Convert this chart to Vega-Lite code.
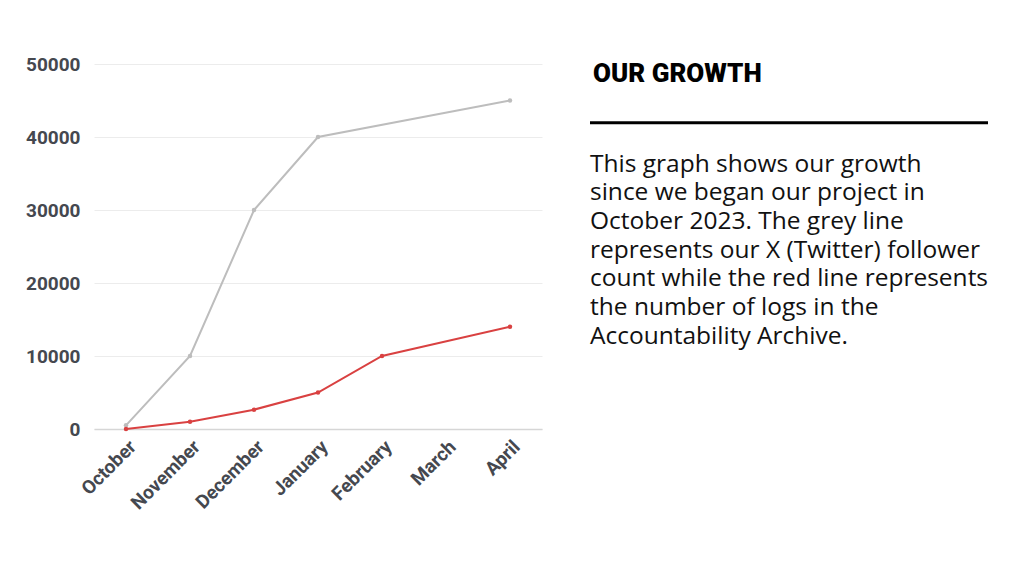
{
  "$schema": "https://vega.github.io/schema/vega-lite/v6.json",
  "background": "white",
  "padding": {"left": 25, "top": 55, "right": 0, "bottom": 0},
  "autosize": {"type": "pad"},
  "config": {"view": {"stroke": null}},
  "spacing": 48,
  "bounds": "flush",
  "hconcat": [
    {
      "width": 448,
      "height": 365,
      "data": {
        "values": [
          {"month": "October", "series": "followers", "value": 500},
          {"month": "November", "series": "followers", "value": 10000},
          {"month": "December", "series": "followers", "value": 30000},
          {"month": "January", "series": "followers", "value": 40000},
          {"month": "April", "series": "followers", "value": 45000},
          {"month": "October", "series": "logs", "value": 0},
          {"month": "November", "series": "logs", "value": 1000},
          {"month": "December", "series": "logs", "value": 2650},
          {"month": "January", "series": "logs", "value": 5000},
          {"month": "February", "series": "logs", "value": 10000},
          {"month": "April", "series": "logs", "value": 14000}
        ]
      },
      "encoding": {
        "x": {
          "field": "month",
          "type": "ordinal",
          "sort": null,
          "scale": {"type": "point", "padding": 0.5, "domain": ["October", "November", "December", "January", "February", "March", "April"]},
          "axis": {
            "title": null,
            "labelAngle": -45,
            "ticks": false,
            "grid": false,
            "domainColor": "#d6d6d6",
            "domainWidth": 1.5,
            "labelPadding": 8,
            "labelFont": "Roboto",
            "labelFontWeight": "bold",
            "labelFontSize": 19,
            "labelColor": "#45484f"
          }
        },
        "y": {
          "field": "value",
          "type": "quantitative",
          "scale": {"domain": [0, 50000]},
          "axis": {
            "title": null,
            "values": [0, 10000, 20000, 30000, 40000, 50000],
            "format": "d",
            "domain": false,
            "ticks": false,
            "labelPadding": 14,
            "gridColor": "#ececec",
            "labelFont": "Roboto",
            "labelFontWeight": "bold",
            "labelFontSize": 19,
            "labelColor": "#45484f"
          }
        },
        "color": {
          "field": "series",
          "type": "nominal",
          "scale": {"domain": ["followers", "logs"], "range": ["#bdbdbd", "#d94141"]},
          "legend": null
        }
      },
      "layer": [
        {"mark": {"type": "line", "strokeWidth": 2}},
        {"mark": {"type": "point", "filled": true, "size": 20, "opacity": 1}}
      ]
    },
    {
      "width": 398,
      "height": 365,
      "layer": [
        {
          "data": {"values": [{"x": 0, "x2": 1, "y": 2.09}]},
          "mark": {"type": "rule", "strokeWidth": 3, "color": "#000000"},
          "encoding": {
            "x": {"field": "x", "type": "quantitative", "scale": {"domain": [0, 1]}, "axis": null},
            "x2": {"field": "x2"},
            "y": {"field": "y", "type": "quantitative", "scale": {"domain": [0, 12.72], "reverse": true}, "axis": null}
          }
        },
        {
          "data": {"values": [{"x": 0, "y": 0.65, "text": "OUR GROWTH"}]},
          "mark": {"type": "text", "align": "left", "baseline": "alphabetic", "font": "Roboto", "fontWeight": 900, "fontSize": 26, "color": "#000000", "dx": 3},
          "encoding": {
            "x": {"field": "x", "type": "quantitative"},
            "y": {"field": "y", "type": "quantitative"},
            "text": {"field": "text"}
          }
        },
        {
          "data": {
            "values": [
              {"x": 0, "y": 3.83, "text": "This graph shows our growth\nsince we began our project in\nOctober 2023. The grey line\nrepresents our X (Twitter) follower\ncount while the red line represents\nthe number of logs in the\nAccountability Archive."}
            ]
          },
          "mark": {"type": "text", "align": "left", "baseline": "alphabetic", "lineBreak": "\n", "lineHeight": 28.7, "font": "Open Sans", "fontSize": 24.5, "color": "#111111"},
          "encoding": {
            "x": {"field": "x", "type": "quantitative"},
            "y": {"field": "y", "type": "quantitative"},
            "text": {"field": "text"}
          }
        }
      ]
    }
  ]
}
